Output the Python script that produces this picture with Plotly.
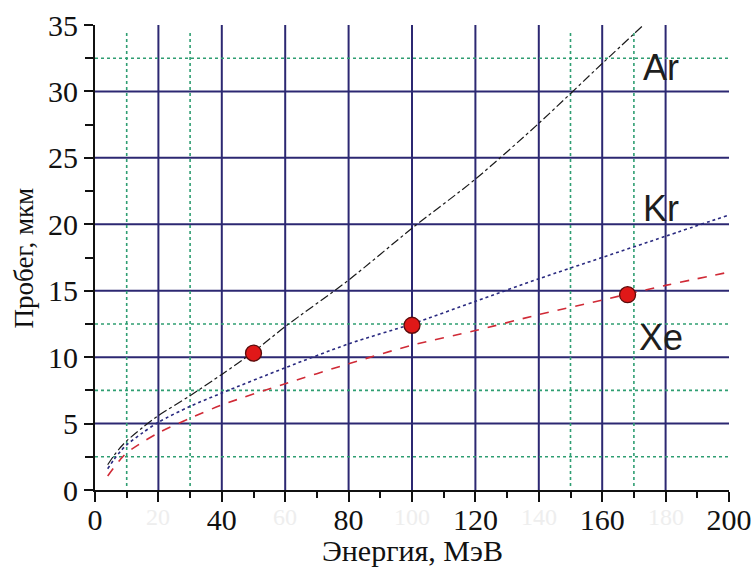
import plotly.graph_objects as go

# Ranges of ions vs. energy
energy_ar = [4, 6, 8, 10, 15, 20, 30, 40, 50, 60, 80, 100, 120, 140, 160, 173]
range_ar = [1.9, 2.6, 3.2, 3.7, 4.7, 5.6, 7.1, 8.7, 10.4, 12.3, 15.8, 19.7, 23.4, 27.6, 32.1, 35.0]

energy_kr = [4, 6, 8, 10, 15, 20, 30, 40, 60, 80, 100, 120, 140, 160, 180, 200]
range_kr = [1.6, 2.3, 2.9, 3.4, 4.3, 5.1, 6.3, 7.3, 9.2, 11.0, 12.5, 14.2, 15.9, 17.5, 19.1, 20.7]

energy_xe = [4, 6, 8, 10, 15, 20, 30, 40, 60, 80, 100, 120, 140, 160, 180, 200]
range_xe = [1.05, 1.7, 2.3, 2.8, 3.6, 4.3, 5.4, 6.4, 8.0, 9.5, 10.9, 12.0, 13.2, 14.3, 15.4, 16.4]

# Measured points
energy_pts = [50, 100, 168]
range_pts = [10.3, 12.4, 14.7]

# Ion labels placed at the right side
ion_names = ["Ar", "Kr", "Xe"]
ion_label_y = [31.8, 21.2, 11.5]
ion_label_x = 178.5

# Axis ticks
x_major = list(range(0, 201, 20))
x_labels = [str(v) if v % 40 == 0 else "" for v in x_major]
x_minor = list(range(10, 200, 20))
x_faint = [20, 60, 100, 140, 180]
y_major = list(range(0, 36, 5))
y_labels = [str(v) for v in y_major]
y_minor = [2.5 + 5 * i for i in range(7)]

# Grid positions
major_vx = [20, 40, 60, 80, 100, 120, 140, 160, 180]
major_hy = [5, 10, 15, 20, 25, 30]
dotted_vx = [10, 30, 150, 170]
dotted_hy = [2.5, 7.5, 12.5, 32.5]

NAVY = "#2c2872"
GREEN = "#2f9e72"
INK = "#111111"

fig = go.Figure()

fig.add_trace(go.Scatter(x=energy_ar, y=range_ar, mode="lines",
                         line=dict(color="#1a1a1a", width=1.2, dash="dashdot", shape="spline", smoothing=0.8)))
fig.add_trace(go.Scatter(x=energy_kr, y=range_kr, mode="lines",
                         line=dict(color="#2a2a80", width=1.6, dash="dot", shape="spline", smoothing=0.8)))
fig.add_trace(go.Scatter(x=energy_xe, y=range_xe, mode="lines",
                         line=dict(color="#d02a36", width=1.6, dash="dash", shape="spline", smoothing=0.8)))
fig.add_trace(go.Scatter(x=energy_pts, y=range_pts, mode="markers",
                         marker=dict(size=16, color="#e01818", line=dict(color="#5a0c0c", width=1.3))))

shapes = []
for v in major_vx:
    shapes.append(dict(type="line", xref="x", yref="y", x0=v, x1=v, y0=0, y1=35,
                       line=dict(color=NAVY, width=2), layer="below"))
for v in major_hy:
    shapes.append(dict(type="line", xref="x", yref="y", x0=0, x1=200, y0=v, y1=v,
                       line=dict(color=NAVY, width=2), layer="below"))
for v in dotted_vx:
    shapes.append(dict(type="line", xref="x", yref="y", x0=v, x1=v, y0=0.3, y1=34.5,
                       line=dict(color=GREEN, width=1.6, dash="dot"), layer="below"))
for v in dotted_hy:
    shapes.append(dict(type="line", xref="x", yref="y", x0=0, x1=200, y0=v, y1=v,
                       line=dict(color=GREEN, width=1.6, dash="dot"), layer="below"))

annotations = []
for name, yy in zip(ion_names, ion_label_y):
    annotations.append(dict(x=ion_label_x, y=yy, xref="x", yref="y", text=name, showarrow=False,
                            xanchor="center", yanchor="middle",
                            font=dict(family="Liberation Sans, Arial", size=36, color="#1e1e1e")))
for v in x_faint:
    annotations.append(dict(x=v, y=0, xref="x", yref="y", text=str(v), showarrow=False,
                            xanchor="center", yanchor="top", yshift=-12,
                            font=dict(family="Liberation Serif", size=24, color="#eeeeee")))
# Axis titles
annotations.append(dict(x=0.5, y=-0.131, xref="paper", yref="paper", text="Энергия, МэВ",
                        showarrow=False, xanchor="center", yanchor="middle",
                        font=dict(family="Liberation Serif", size=30, color=INK)))
annotations.append(dict(x=-0.112, y=0.5, xref="paper", yref="paper", text="Пробег, мкм",
                        showarrow=False, xanchor="center", yanchor="middle", textangle=-90,
                        font=dict(family="Liberation Serif", size=27, color=INK)))

axis_common = dict(
    showgrid=False, zeroline=False, automargin=False,
    showline=True, linecolor=INK, linewidth=2,
    ticks="outside", tickwidth=1.5, tickcolor=INK,
    tickfont=dict(family="Liberation Serif", size=30, color=INK),
)

fig.update_layout(
    width=754, height=568,
    margin=dict(l=95, r=25, t=25, b=78),
    paper_bgcolor="white", plot_bgcolor="white",
    showlegend=False,
    shapes=shapes,
    annotations=annotations,
    xaxis=dict(range=[0, 200], tickvals=x_major, ticktext=x_labels, ticklen=10,
               ticklabelstandoff=-8,
               minor=dict(tickvals=x_minor, ticks="outside", ticklen=6, tickwidth=1.5, tickcolor=INK),
               **axis_common),
    yaxis=dict(range=[0, 35], tickvals=y_major, ticktext=y_labels, ticklen=9,
               minor=dict(tickvals=y_minor, ticks="outside", ticklen=8, tickwidth=1.5, tickcolor=INK),
               **axis_common),
)

fig.write_html("out.html")
